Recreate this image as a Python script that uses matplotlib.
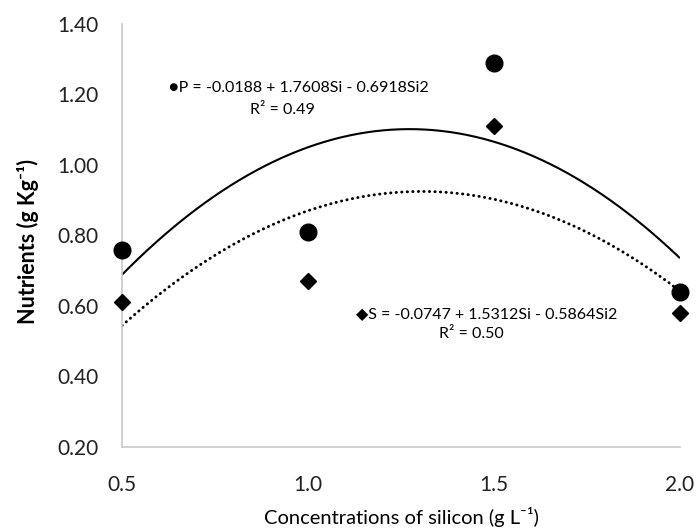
import numpy as np
import matplotlib
matplotlib.use("Agg")
import matplotlib.pyplot as plt

plt.rcParams['font.family'] = ['Lato', 'DejaVu Sans']

# data
si = [0.5, 1.0, 1.5, 2.0]
p_vals = [0.76, 0.81, 1.29, 0.64]
s_vals = [0.61, 0.67, 1.11, 0.58]

# trendline coefficients printed on the chart (c0 + c1*Si + c2*Si^2)
p_coef = [-0.0188, 1.7608, -0.6918]
s_coef = [-0.0747, 1.5312, -0.5864]

y_ticks = [0.20, 0.40, 0.60, 0.80, 1.00, 1.20, 1.40]
x_ticks = [0.5, 1.0, 1.5, 2.0]

fig = plt.figure(figsize=(6.96, 5.32), dpi=100)
ax = fig.add_axes([0.1753, 0.1598, 0.977 - 0.1753, 0.955 - 0.1598])

xs = np.linspace(min(si), max(si), 200)
ax.plot(xs, np.polyval(p_coef[::-1], xs), color='black', lw=1.5, solid_capstyle='butt')
ax.plot(xs, np.polyval(s_coef[::-1], xs), color='black', lw=2.1, ls=(0, (0.1, 1.8)),
        dash_capstyle='round')

ax.plot(si, p_vals, 'o', color='black', ms=12, ls='none', clip_on=False, zorder=5)
ax.plot(si, s_vals, 'D', color='black', ms=8.5, ls='none', clip_on=False, zorder=5)

ax.set_xlim(0.5, 2.0)
ax.set_ylim(0.2, 1.4)
ax.set_xticks(x_ticks)
ax.set_xticklabels([f"{v:.1f}" for v in x_ticks])
ax.set_yticks(y_ticks)
ax.set_yticklabels([f"{v:.2f}" for v in y_ticks])
ax.tick_params(axis='both', length=0, labelsize=15, colors='#222222')
ax.tick_params(axis='y', pad=17)
ax.tick_params(axis='x', pad=20)

for side in ['top', 'right']:
    ax.spines[side].set_visible(False)
for side in ['left', 'bottom']:
    ax.spines[side].set_color('#c8c8c8')
    ax.spines[side].set_linewidth(1.2)

fig.text(28 / 696, 1 - 242 / 532, "Nutrients (g Kg\u207b\u00b9)", rotation=90,
         ha='center', va='center', fontsize=15.5, fontweight='bold')
fig.text(401 / 696, 1 - 517 / 532, "Concentrations of silicon (g L\u207b\u00b9)",
         ha='center', va='center', fontsize=14.5)

ax.text(0.625, 1.218, "\u25cfP = -0.0188 + 1.7608Si - 0.6918Si2",
        ha='left', va='center', fontsize=11.5, family=['Lato', 'DejaVu Sans'])
ax.text(0.93, 1.155, "R\u00b2 = 0.49", ha='center', va='center', fontsize=11.5)
ax.text(1.13, 0.578, "\u25c6S = -0.0747 + 1.5312Si - 0.5864Si2",
        ha='left', va='center', fontsize=11.5, family=['Lato', 'DejaVu Sans'])
ax.text(1.44, 0.52, "R\u00b2 = 0.50", ha='center', va='center', fontsize=11.5)

fig.savefig("out.png", dpi=100)
